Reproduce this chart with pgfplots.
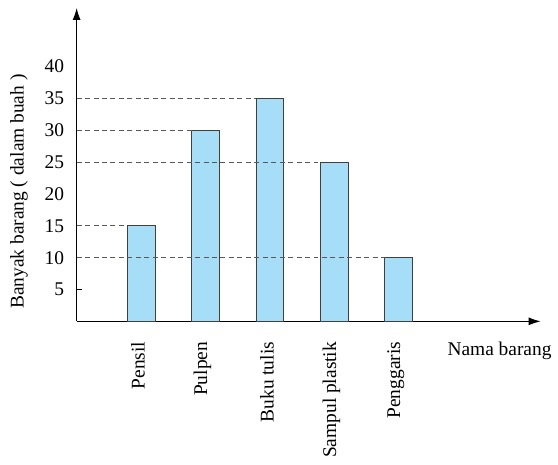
\documentclass[border=0pt]{standalone}
\usepackage{pgfplots}
\pgfplotsset{compat=1.18}
\usepackage{fontspec}
\setmainfont{Liberation Serif}
\usetikzlibrary{arrows.meta}
\definecolor{barblue}{RGB}{166,222,248}
\begin{document}
\fontsize{19.5}{22}\selectfont
\begin{tikzpicture}
\begin{axis}[
 x=64.75pt, y=6.4pt,
 xmin=0, xmax=7.2, ymin=0, ymax=49.2,
 axis lines=left,
 axis line style={line width=1pt, -{Latex[length=12pt,width=8pt]}},
 xtick={1,...,5},
 xticklabels={Pensil,Pulpen,Buku tulis,Sampul plastik,Penggaris},
 x tick label style={yshift=-14pt, xshift=-3pt, rotate=90, anchor=east},
 ytick={5,10,...,40},
 major tick length=0pt,
 extra y ticks={5},
 extra y tick labels={},
 extra y tick style={major tick length=5pt, tick align=inside, tick style={line width=0.8pt, black}},
 yticklabel style={xshift=-6pt},
 /pgf/number format/assume math mode=true,
 ylabel={Banyak barang ( dalam buah )},
 ylabel style={at={(axis description cs:-0.124,0.414)}, anchor=center, rotate=0},
 xlabel={Nama barang},
 xlabel style={at={(axis description cs:0.785,0)}, anchor=north west, yshift=-14pt},
 clip=false,
]
\addplot[ybar, bar width=28pt, fill=barblue, draw=black!75, line width=1pt] coordinates {(1,15) (2,30) (3,35) (4,25) (5,10)};
\pgfplotsset{dline/.style={draw=black!65, line width=0.9pt, dash pattern=on 5pt off 3.5pt}}
\addplot[dline] coordinates {(0,35) (2.784,35)};
\addplot[dline] coordinates {(0,30) (1.784,30)};
\addplot[dline] coordinates {(0,25) (3.784,25)};
\addplot[dline] coordinates {(0,15) (0.784,15)};
\addplot[dline] coordinates {(0,10) (4.784,10)};
\path (axis description cs:0,1) ++(0,8pt) coordinate (top);
\path (top) ++(-77pt,0) coordinate (tl);
\path (tl) circle (0pt);
\end{axis}
\end{tikzpicture}
\end{document}
